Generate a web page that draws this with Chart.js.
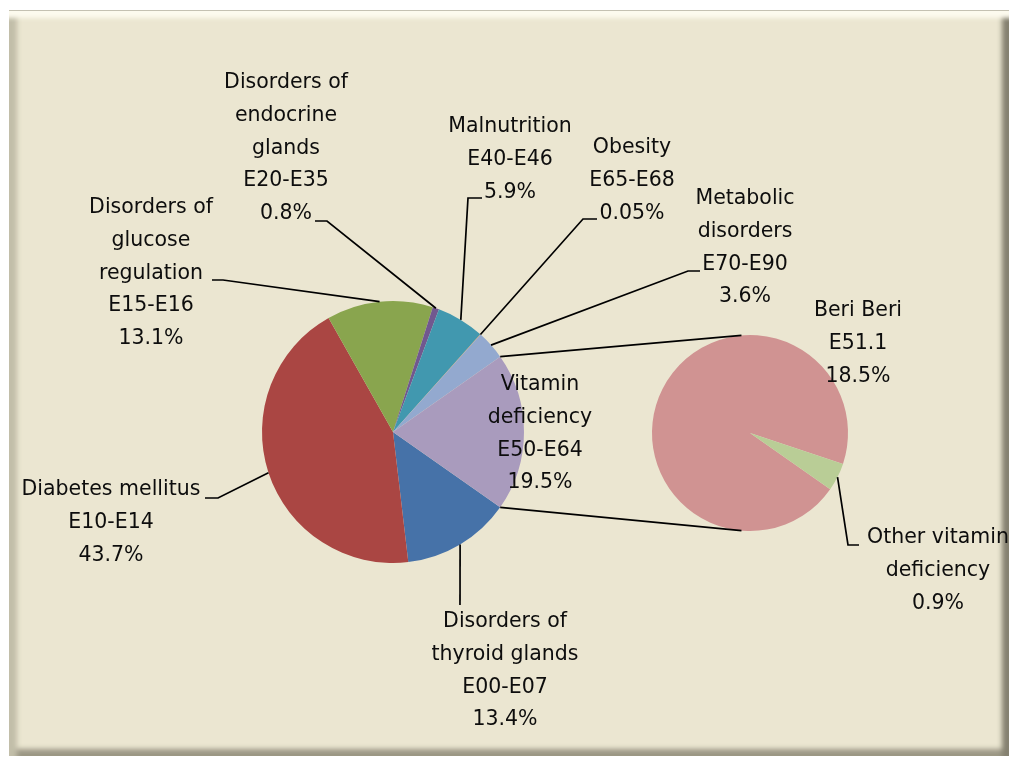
<!DOCTYPE html>
<html>
<head>
<meta charset="utf-8">
<script src="https://cdn.jsdelivr.net/npm/chart.js@4.4.1/dist/chart.umd.min.js"></script>
<style>
  body { margin: 0; background: #fff; }
  #wrap { position: relative; width: 1013px; height: 758px; overflow: hidden; }
  #frame {
    position: absolute; left: 9px; top: 10px; width: 1000px; height: 746px;
    background: #ebe6d1;
    box-shadow:
      inset 0 1px 0 #c4c1b2,
      inset 0 15px 4px -7px #fcfaee,
      inset 12px 0 5px -4px #c2bea9,
      inset -11px 0 5px -4px #858170,
      inset 0 -11px 5px -4px #9c9886;
  }
  canvas { position: absolute; left: 0; top: 0; }
</style>
</head>
<body>
<div id="wrap">
  <div id="frame"></div>
  <canvas id="mainPie" width="1013" height="758"></canvas>
  <canvas id="subPie" width="1013" height="758"></canvas>
</div>
<script>
// main pie: ICD-10 chapter E groups
const mainNames = ["Disorders of thyroid glands", "Diabetes mellitus", "Disorders of glucose regulation",
  "Disorders of endocrine glands", "Malnutrition", "Obesity", "Metabolic disorders", "Vitamin deficiency"];
const mainLines = [["Disorders of", "thyroid glands"], ["Diabetes mellitus"], ["Disorders of", "glucose", "regulation"],
  ["Disorders of", "endocrine", "glands"], ["Malnutrition"], ["Obesity"], ["Metabolic", "disorders"], ["Vitamin", "deficiency"]];
const mainCodes = ["E00-E07", "E10-E14", "E15-E16", "E20-E35", "E40-E46", "E65-E68", "E70-E90", "E50-E64"];
const mainValues = [13.4, 43.7, 13.1, 0.8, 5.9, 0.05, 3.6, 19.5];
const mainColors = ["#4672a8", "#aa4643", "#89a54e", "#71588f", "#4198af", "#db843d", "#93a9cf", "#a99bbd"];

// second pie: split of vitamin deficiency
const subNames = ["Beri Beri", "Other vitamin deficiency"];
const subLines = [["Beri Beri"], ["Other vitamin", "deficiency"]];
const subCodes = ["E51.1", ""];
const subValues = [18.5, 0.9];
const subColors = ["#d09392", "#b9cd96"];

// label placement (center x, first line y, leader elbow + stub end)
const mainLabelPos = [
  { x: 505, y: 622, elbow: [460, 605], stub: 460 },
  { x: 111, y: 490, elbow: [218, 498], stub: 205 },
  { x: 151, y: 208, elbow: [223, 280], stub: 212 },
  { x: 286, y: 83, elbow: [327, 221], stub: 315 },
  { x: 510, y: 127, elbow: [468, 198], stub: 482 },
  { x: 632, y: 148, elbow: [583, 219], stub: 597 },
  { x: 745, y: 199, elbow: [688, 271], stub: 700 },
  { x: 540, y: 385 }
];
const subLabelPos = [
  { x: 858, y: 311 },
  { x: 938, y: 538, elbow: [848, 545], stub: 859 }
];

const FONT = '20.5px "DejaVu Sans"';
const LINE_H = 32.7;

const total = mainValues.reduce((a, b) => a + b, 0);
const vitShare = mainValues[mainValues.length - 1] / total;
const rot = 90 + vitShare * 180; // center vitamin slice on the right

function drawLabels(chart, lines, codes, values, pos) {
  const ctx = chart.ctx;
  const arcs = chart.getDatasetMeta(0).data;
  ctx.save();
  ctx.strokeStyle = "#000";
  ctx.lineWidth = 1.7;
  arcs.forEach(function (arc, i) {
    const p = pos[i];
    if (!p.elbow) return;
    const a = arc.getProps(["x", "y", "startAngle", "endAngle", "outerRadius"], true);
    const mid = (a.startAngle + a.endAngle) / 2;
    ctx.beginPath();
    ctx.moveTo(a.x + a.outerRadius * Math.cos(mid), a.y + a.outerRadius * Math.sin(mid));
    ctx.lineTo(p.elbow[0], p.elbow[1]);
    ctx.lineTo(p.stub, p.elbow[1]);
    ctx.stroke();
  });
  ctx.fillStyle = "#0d0d0d";
  ctx.font = FONT;
  ctx.textAlign = "center";
  ctx.textBaseline = "middle";
  arcs.forEach(function (arc, i) {
    const p = pos[i];
    const txt = lines[i].slice();
    if (codes[i]) txt.push(codes[i]);
    txt.push(String(values[i]) + "%");
    txt.forEach(function (t, k) {
      ctx.fillText(t, p.x, p.y + k * LINE_H);
    });
  });
  ctx.restore();
}

const mainChart = new Chart(document.getElementById("mainPie"), {
  type: "pie",
  data: {
    labels: mainNames,
    datasets: [{ data: mainValues, backgroundColor: mainColors, borderWidth: 0 }]
  },
  options: {
    responsive: false,
    animation: false,
    rotation: rot,
    layout: { padding: { left: 262, right: 489, top: 301, bottom: 195 } },
    plugins: { legend: { display: false }, tooltip: { enabled: false } }
  },
  plugins: [{
    id: "mainLabels",
    afterDraw: function (chart) {
      drawLabels(chart, mainLines, mainCodes, mainValues, mainLabelPos);
    }
  }]
});

const subChart = new Chart(document.getElementById("subPie"), {
  type: "pie",
  data: {
    labels: subNames,
    datasets: [{ data: subValues, backgroundColor: subColors, borderWidth: 0 }]
  },
  options: {
    responsive: false,
    animation: false,
    rotation: rot,
    layout: { padding: { left: 652, right: 165, top: 335, bottom: 227 } },
    plugins: { legend: { display: false }, tooltip: { enabled: false } }
  },
  plugins: [{
    id: "subLabels",
    afterDraw: function (chart) {
      const ctx = chart.ctx;
      // connector lines from the vitamin slice to the second pie
      const mArcs = mainChart.getDatasetMeta(0).data;
      const v = mArcs[mArcs.length - 1].getProps(["x", "y", "startAngle", "endAngle", "outerRadius"], true);
      const s = chart.getDatasetMeta(0).data[0].getProps(["x", "y", "outerRadius"], true);
      const off = 5 * Math.PI / 180;
      ctx.save();
      ctx.strokeStyle = "#000";
      ctx.lineWidth = 1.7;
      ctx.beginPath();
      ctx.moveTo(v.x + v.outerRadius * Math.cos(v.startAngle), v.y + v.outerRadius * Math.sin(v.startAngle));
      ctx.lineTo(s.x + s.outerRadius * Math.cos(-Math.PI / 2 - off), s.y + s.outerRadius * Math.sin(-Math.PI / 2 - off));
      ctx.moveTo(v.x + v.outerRadius * Math.cos(v.endAngle), v.y + v.outerRadius * Math.sin(v.endAngle));
      ctx.lineTo(s.x + s.outerRadius * Math.cos(Math.PI / 2 + off), s.y + s.outerRadius * Math.sin(Math.PI / 2 + off));
      ctx.stroke();
      ctx.restore();
      drawLabels(chart, subLines, subCodes, subValues, subLabelPos);
    }
  }]
});
</script>
</body>
</html>
